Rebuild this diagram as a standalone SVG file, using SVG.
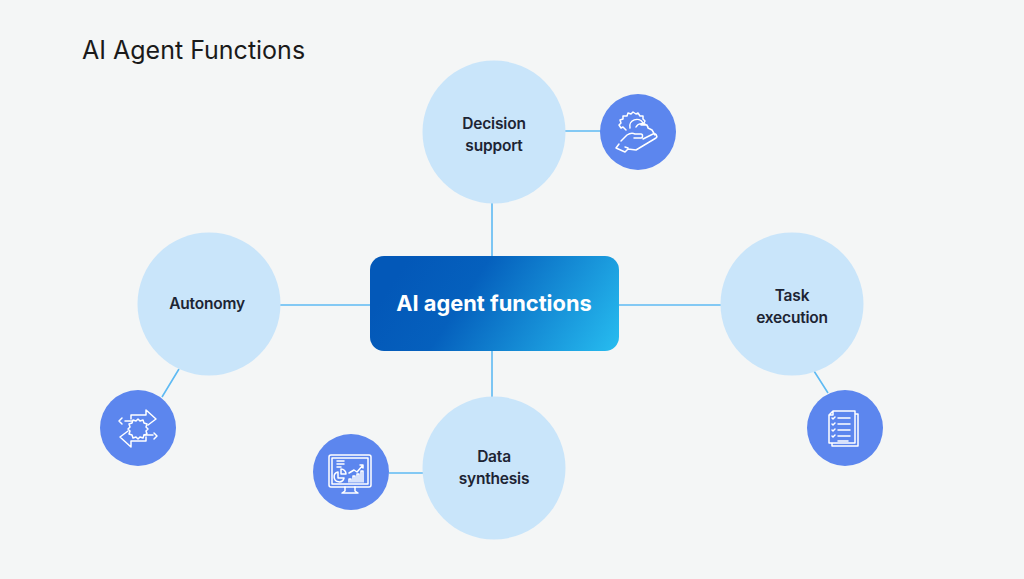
<svg xmlns="http://www.w3.org/2000/svg" width="1024" height="579" viewBox="0 0 1024 579">
<style>
.c{fill:#c9e5fa}
.s{fill:#5c86ee}
.i{fill:none;stroke:#fff;stroke-width:1.5;stroke-linecap:round;stroke-linejoin:round}
.t{font-family:"Inter","Liberation Sans",sans-serif;font-size:15.5px;font-weight:600;fill:#1d2433;text-anchor:middle;letter-spacing:-.2px}
.l{stroke:#5ebaf3;stroke-width:1.6;fill:none}
</style>
<defs>
<linearGradient id="g" gradientUnits="userSpaceOnUse" x1="420" y1="240" x2="610" y2="365">
<stop offset="0" stop-color="#0358b8"/><stop offset=".3" stop-color="#0560bd"/><stop offset="1" stop-color="#27bdf0"/>
</linearGradient>
</defs>
<rect width="1024" height="579" fill="#f4f6f6"/>
<text x="82" y="59" font-family="Inter,'Liberation Sans',sans-serif" font-size="25" fill="#1a1a1a">AI Agent Functions</text>
<g id="connectors" class="l">
<path d="M492 203V257M492 350V397M280 305H371M618 305H721M565 131H601M389 473H424M179 369L162 397M814 371L828 393"/>
</g>
<g id="center"><rect x="370" y="256" width="249" height="95" rx="14" fill="url(#g)"/>
<text x="494" y="311" font-family="Inter,'Liberation Sans',sans-serif" font-size="21.8" font-weight="700" fill="#fff" text-anchor="middle">AI agent functions</text></g>
<g id="decision-support"><circle class="c" cx="494" cy="132" r="71.500"/><text class="t" x="494" y="129">Decision</text><text class="t" x="494" y="151">support</text></g>
<g id="autonomy"><circle class="c" cx="209" cy="304" r="71.500"/><text class="t" x="207" y="309">Autonomy</text></g>
<g id="task-execution"><circle class="c" cx="792" cy="304" r="71.500"/><text class="t" x="792" y="301">Task</text><text class="t" x="792" y="323">execution</text></g>
<g id="data-synthesis"><circle class="c" cx="494" cy="468" r="71.500"/><text class="t" x="494" y="462">Data</text><text class="t" x="494" y="484">synthesis</text></g>
<g id="icon-decision"><circle class="s" cx="638" cy="132" r="38"/>
<path class="i" d="M626 130l-3-3-2 1-2-3 2-2-1-3 3-1v-3l4 0 1-3 3 1 2-2 3 2 2-1 2 3 3 0 0 3 2 2-1 2M630 128c-2-8 9-12 13-5M636 127c2-4 9-5 12 0M641 125l6 0 1 3 4 2 3 5M619 144l-3 4 9 4 3-3 8 1 20-12c2-2 0-5-3-4l-10 5M621 141l6-6c3-2 6-2 8-1h6c2 0 2 4 0 4h-7M628 148l-3-1"/></g>
<g id="icon-autonomy"><circle class="s" cx="138" cy="428" r="38"/>
<path class="i" d="M131 419v-4h15v-5l10 9-8 6M146 437v4h-15v6l-11-10 8-6M122 418l-3 3 3 3M154 433l3 3-3 3M125 421h7M144 435h9"/>
<path class="i" d="M138 419l2 2 3-1 1 3 3 1-1 3 2 2-2 2 1 3-3 1-1 3-3-1-2 2-2-2-3 1-1-3-3-1 1-3-2-2 2-2-1-3 3-1 1-3 3 1z"/></g>
<g id="icon-data"><circle class="s" cx="351" cy="472" r="38"/>
<rect class="i" x="329" y="455" width="42" height="32" rx="2"/><rect class="i" x="332" y="458" width="36" height="26"/>
<path class="i" d="M345 487v4l-3 2h16l-3-2v-4M337 461h7M337 464h7M337 467h4"/>
<path class="i" d="M338 472a5 5 0 1 0 6 6h-6zM341 469a5 5 0 0 1 5 5h-5z"/>
<path class="i" d="M349 482v-3h2v3M353 482v-6h2v6M357 482v-8h2v8M361 482v-11h2v11M349 473l5-3 3 2 6-7M360 465h3v3"/></g>
<g id="icon-task"><circle class="s" cx="845" cy="428" r="38"/>
<path class="i" d="M833 411h22v32h-26v-28zM855 414h3v32h-26v-3M833 411v4h-4"/>
<path class="i" d="M838 418h12M838 424h12M838 430h12M838 436h12M838 441h10M832 418l1 1 2-2M832 424l1 1 2-2M832 430l1 1 2-2M832 436l1 1 2-2"/></g>
</svg>
